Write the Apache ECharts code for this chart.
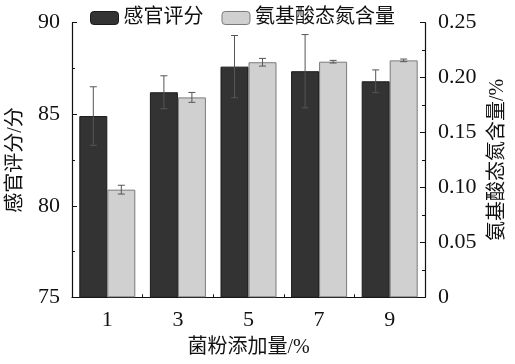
<!DOCTYPE html>
<html><head><meta charset="utf-8">
<script src="https://cdn.jsdelivr.net/npm/echarts@6/dist/echarts.min.js"></script>
<style>html,body{margin:0;padding:0;background:#fff}#c{width:515px;height:364px}</style>
</head><body><div id="c"></div>
<script>
const categories = ['1', '3', '5', '7', '9'];
const sensory = [84.9, 86.2, 87.6, 87.35, 86.8];
const sensoryErr = [1.6, 0.9, 1.7, 2.0, 0.62];
const aminoN = [0.098, 0.182, 0.214, 0.2145, 0.2157];
const aminoNErr = [0.004, 0.0045, 0.0035, 0.0012, 0.0012];
const leftTicks = [75, 80, 85, 90];
const rightTicks = [0, 0.05, 0.10, 0.15, 0.20, 0.25];

const FONT = "'Liberation Serif', 'Times New Roman', 'Noto Sans CJK SC'";
const BAR_W = 28;

function errSeries(vals, errs, yIdx, side) {
  return {
    type: 'custom',
    yAxisIndex: yIdx,
    silent: true,
    z: 10,
    data: vals.map((v, i) => [i, v - errs[i], v + errs[i]]),
    renderItem: function (params, api) {
      const i = api.value(0);
      const lo = api.coord([i, api.value(1)]);
      const hi = api.coord([i, api.value(2)]);
      const x = lo[0] + side * BAR_W / 2;
      const cw = 3.5;
      const st = { stroke: '#555', lineWidth: 1 };
      return {
        type: 'group',
        children: [
          { type: 'line', shape: { x1: x, y1: lo[1], x2: x, y2: hi[1] }, style: st },
          { type: 'line', shape: { x1: x - cw, y1: lo[1], x2: x + cw, y2: lo[1] }, style: st },
          { type: 'line', shape: { x1: x - cw, y1: hi[1], x2: x + cw, y2: hi[1] }, style: st }
        ]
      };
    }
  };
}

const chart = echarts.init(document.getElementById('c'), null, { renderer: 'canvas' });
chart.setOption({
  animation: false,
  textStyle: { fontFamily: FONT },
  legend: {
    left: 85, top: 3, itemWidth: 28, itemHeight: 13, itemGap: 18,
    textStyle: { fontFamily: FONT, fontSize: 20, color: '#111' },
    data: [
      { name: '感官评分', itemStyle: { color: '#333', borderColor: '#1a1a1a', borderWidth: 1 } },
      { name: '氨基酸态氮含量', itemStyle: { color: '#d0d0d0', borderColor: '#7a7a7a', borderWidth: 1 } }
    ]
  },
  grid: { left: 72, right: 90, top: 22.7, bottom: 66.7, containLabel: false, outerBoundsMode: 'none' },
  xAxis: {
    type: 'category', data: categories,
    name: '菌粉添加量/%', nameLocation: 'middle', nameGap: 40,
    nameTextStyle: { fontFamily: FONT, fontSize: 20, color: '#111' },
    axisLine: { lineStyle: { color: '#111', width: 1.2 } },
    axisTick: { show: true, inside: true, length: 3, alignWithLabel: false, lineStyle: { color: '#111' } },
    axisLabel: { fontFamily: FONT, fontSize: 22, color: '#111', margin: 12 },
    splitLine: { show: false }
  },
  yAxis: [
    {
      type: 'value', min: 75, max: 90, interval: 5, position: 'left',
      name: '感官评分/分', nameLocation: 'middle', nameGap: 46, nameRotate: 90,
      nameTextStyle: { fontFamily: FONT, fontSize: 20, color: '#111' },
      axisLine: { show: true, lineStyle: { color: '#111', width: 1.2 } },
      axisTick: { show: true, inside: true, length: 5, lineStyle: { color: '#111' } },
      minorTick: { show: true, splitNumber: 2, length: 3, lineStyle: { color: '#111' } },
      axisLabel: { fontFamily: FONT, fontSize: 22, color: '#111', margin: 12,
        formatter: v => leftTicks.includes(v) ? String(v) : '' },
      splitLine: { show: false }
    },
    {
      type: 'value', min: 0, max: 0.25, interval: 0.05, position: 'right',
      name: '氨基酸态氮含量/%', nameLocation: 'middle', nameGap: 63, nameRotate: 90,
      nameTextStyle: { fontFamily: FONT, fontSize: 20, color: '#111' },
      axisLine: { show: true, lineStyle: { color: '#111', width: 1.2 } },
      axisTick: { show: true, inside: true, length: 5, lineStyle: { color: '#111' } },
      minorTick: { show: true, splitNumber: 2, length: 3, lineStyle: { color: '#111' } },
      axisLabel: { fontFamily: FONT, fontSize: 22, color: '#111', margin: 13,
        formatter: v => { const t = rightTicks.find(r => Math.abs(r - v) < 1e-9); return t === undefined ? '' : (t === 0 ? '0' : t.toFixed(2)); } },
      splitLine: { show: false }
    }
  ],
  series: [
    {
      name: '感官评分', type: 'bar', yAxisIndex: 0, data: sensory,
      barWidth: BAR_W, barGap: '0%',
      itemStyle: { color: '#333', borderColor: '#1a1a1a', borderWidth: 1 }
    },
    {
      name: '氨基酸态氮含量', type: 'bar', yAxisIndex: 1, data: aminoN,
      barWidth: BAR_W, barGap: '0%',
      itemStyle: { color: '#d0d0d0', borderColor: '#7a7a7a', borderWidth: 1 }
    },
    errSeries(sensory, sensoryErr, 0, -1),
    errSeries(aminoN, aminoNErr, 1, 1)
  ]
});
</script></body></html>
